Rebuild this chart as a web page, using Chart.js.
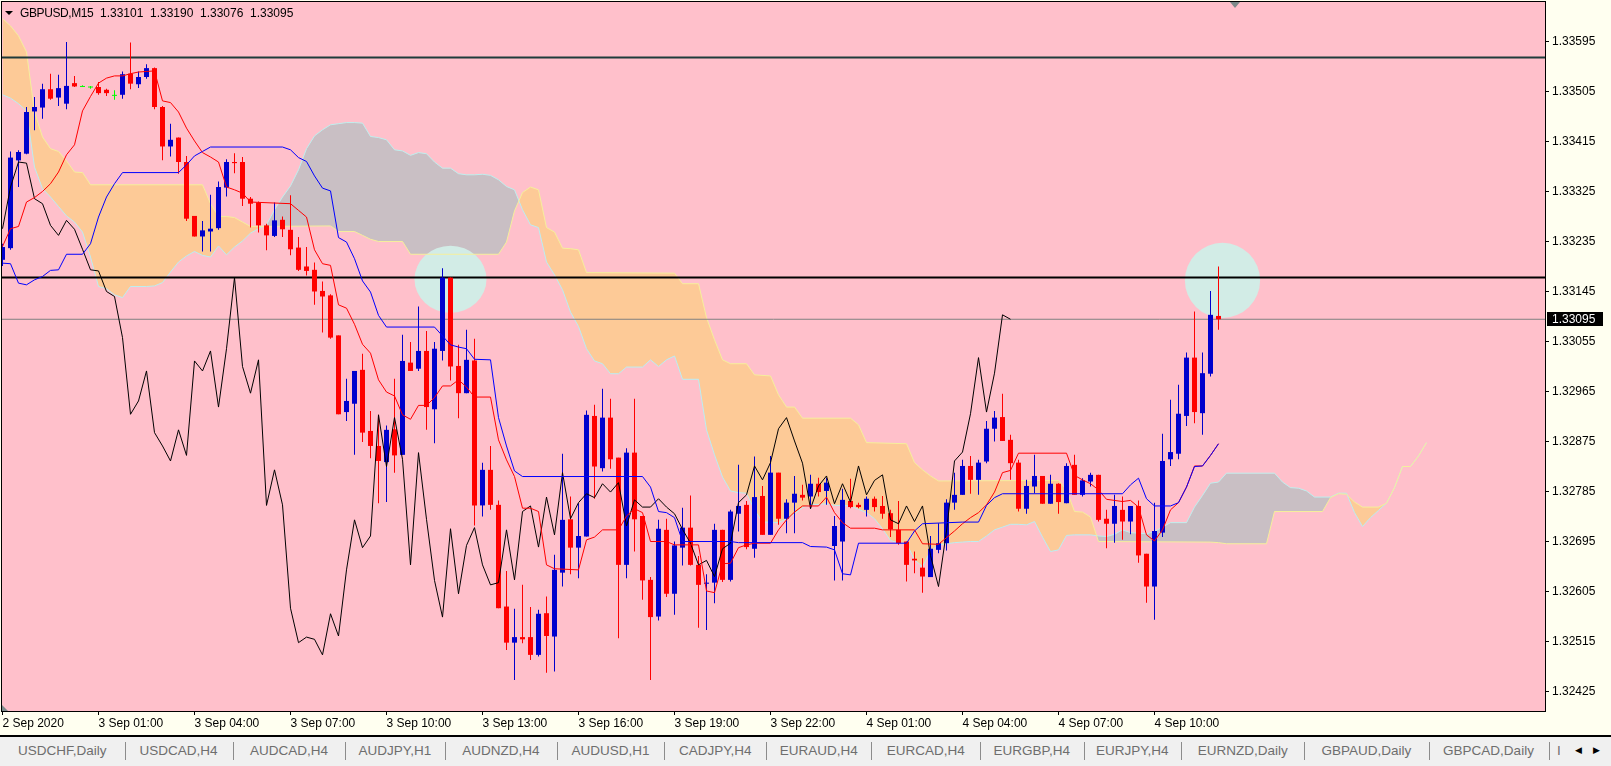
<!DOCTYPE html>
<html>
<head>
<meta charset="utf-8">
<title>GBPUSD,M15</title>
<script src="https://cdn.jsdelivr.net/npm/chart.js@4.4.1/dist/chart.umd.min.js"></script>
<style>
  body { margin: 0; background: #fffff0; }
  #wrap { position: relative; width: 1611px; height: 766px; overflow: hidden; background: #fffff0; font-family: 'Liberation Sans', Arial, sans-serif; }
  #chart { position: absolute; left: 0; top: 0; }
  #title { position: absolute; left: 0; top: 6px; height: 14px; width: 320px; font-size: 12px; line-height: 14px; color: #000; }
  #title span { position: absolute; top: 0; white-space: nowrap; }
  #title .tri { position: absolute; left: 5px; top: 5px; width: 0; height: 0; border-left: 4px solid transparent; border-right: 4px solid transparent; border-top: 4px solid #000; }
  #tabs { position: absolute; left: 0; top: 735px; width: 1611px; height: 29px; border-top: 2px solid #000; background: #f0f0f0; }
  .tab { position: absolute; top: 0; height: 27px; line-height: 27px; text-align: center; font-size: 13.5px; color: #6e6e6e; white-space: nowrap; overflow: hidden; }
  .sep { position: absolute; top: 5px; width: 1px; height: 18px; background: #8c8c8c; }
  .arrow { position: absolute; top: 0; height: 27px; line-height: 27px; font-size: 9px; color: #000; font-family: 'DejaVu Sans', sans-serif; }
</style>
</head>
<body>
<div id="wrap">
  <canvas id="chart" width="1611" height="737"></canvas>
  <div id="title">
    <div class="tri"></div>
    <span style="left:20px;letter-spacing:-0.4px">GBPUSD,M15</span>
    <span style="left:100px">1.33101</span>
    <span style="left:150px">1.33190</span>
    <span style="left:200px">1.33076</span>
    <span style="left:250px">1.33095</span>
  </div>
  <div id="tabs"></div>
</div>
<script>
// M15 bars, bar 0 = 2 Sep 22:00
const opens = [1.33202,1.33223,1.33381,1.33393,1.33469,1.33476,1.33509,1.33494,1.33483,1.33520,
  1.33514,1.33513,1.33513,1.33508,1.33498,1.33499,1.33537,1.33518,1.33531,1.33547,
  1.33477,1.33406,1.33422,1.33378,1.33281,1.33244,1.33253,1.33259,1.33332,1.33378,
  1.33378,1.33312,1.33305,1.33264,1.33245,1.33274,1.33256,1.33224,1.33190,1.33184,
  1.33146,1.33138,1.33066,1.32928,1.32943,1.33004,1.32894,1.32867,1.32838,1.32897,
  1.32851,1.33017,1.33006,1.33038,1.32933,1.33038,1.33170,1.33011,1.32962,1.33021,
  1.32760,1.32824,1.32761,1.32578,1.32513,1.32523,1.32523,1.32491,1.32566,1.32524,
  1.32639,1.32735,1.32684,1.32704,1.32921,1.32827,1.32918,1.32846,1.32653,1.32855,
  1.32741,1.32626,1.32560,1.32716,1.32601,1.32684,1.32720,1.32653,1.32619,1.32621,
  1.32716,1.32626,1.32745,1.32761,1.32682,1.32777,1.32707,1.32819,1.32736,1.32765,
  1.32779,1.32776,1.32799,1.32786,1.32687,1.32695,1.32768,1.32761,1.32752,1.32772,
  1.32759,1.32746,1.32716,1.32695,1.32664,1.32648,1.32631,1.32680,1.32692,1.32765,
  1.32779,1.32831,1.32806,1.32839,1.32898,1.32919,1.32878,1.32837,1.32754,1.32794,
  1.32813,1.32763,1.32799,1.32764,1.32833,1.32779,1.32803,1.32815,1.32736,1.32727,
  1.32752,1.32731,1.32759,1.32673,1.32614,1.32711,1.32843,1.32853,1.32921,1.33026,
  1.32926,1.32997,1.33101]
const highs = [1.33231,1.33397,1.33399,1.33477,1.33495,1.33519,1.33537,1.33535,1.33594,1.33533,
  1.33516,1.33515,1.33522,1.33510,1.33507,1.33541,1.33593,1.33541,1.33554,1.33548,
  1.33479,1.33447,1.33422,1.33389,1.33281,1.33272,1.33319,1.33343,1.33383,1.33394,
  1.33387,1.33315,1.33307,1.33267,1.33305,1.33280,1.33318,1.33243,1.33225,1.33197,
  1.33163,1.33140,1.33066,1.32988,1.33002,1.33033,1.32930,1.32923,1.32904,1.32988,
  1.33067,1.33054,1.33118,1.33074,1.33054,1.33187,1.33170,1.33049,1.33076,1.33060,
  1.32837,1.32867,1.32769,1.32642,1.32574,1.32617,1.32577,1.32572,1.32596,1.32671,
  1.32853,1.32776,1.32764,1.32931,1.32941,1.32970,1.32952,1.32846,1.32863,1.32952,
  1.32741,1.32631,1.32734,1.32736,1.32695,1.32756,1.32778,1.32669,1.32636,1.32727,
  1.32716,1.32752,1.32833,1.32768,1.32848,1.32795,1.32849,1.32819,1.32771,1.32813,
  1.32797,1.32815,1.32810,1.32810,1.32741,1.32790,1.32808,1.32765,1.32776,1.32776,
  1.32777,1.32752,1.32768,1.32695,1.32677,1.32665,1.32705,1.32728,1.32771,1.32819,
  1.32842,1.32849,1.32842,1.32912,1.32930,1.32961,1.32887,1.32842,1.32806,1.32851,
  1.32813,1.32815,1.32800,1.32836,1.32851,1.32809,1.32819,1.32815,1.32752,1.32779,
  1.32776,1.32759,1.32769,1.32673,1.32765,1.32889,1.32950,1.32977,1.33035,1.33109,
  1.33035,1.33146,1.33190]
const lows = [1.33191,1.33220,1.33333,1.33392,1.33435,1.33456,1.33490,1.33479,1.33473,1.33513,
  1.33513,1.33510,1.33499,1.33497,1.33490,1.33492,1.33509,1.33511,1.33528,1.33473,
  1.33381,1.33388,1.33357,1.33272,1.33244,1.33217,1.33217,1.33256,1.33316,1.33358,
  1.33299,1.33260,1.33251,1.33219,1.33243,1.33243,1.33210,1.33182,1.33174,1.33121,
  1.33071,1.33060,1.32924,1.32912,1.32851,1.32874,1.32845,1.32764,1.32766,1.32819,
  1.32851,1.33002,1.33002,1.32896,1.32872,1.33021,1.32985,1.32917,1.32962,1.32724,
  1.32740,1.32752,1.32575,1.32500,1.32446,1.32512,1.32482,1.32488,1.32459,1.32461,
  1.32614,1.32636,1.32629,1.32704,1.32772,1.32821,1.32826,1.32521,1.32629,1.32677,
  1.32590,1.32446,1.32553,1.32595,1.32563,1.32652,1.32652,1.32540,1.32536,1.32584,
  1.32622,1.32623,1.32713,1.32681,1.32666,1.32707,1.32707,1.32725,1.32710,1.32710,
  1.32769,1.32755,1.32776,1.32761,1.32625,1.32625,1.32755,1.32755,1.32740,1.32749,
  1.32736,1.32703,1.32689,1.32623,1.32638,1.32603,1.32631,1.32674,1.32679,1.32752,
  1.32779,1.32781,1.32779,1.32836,1.32875,1.32876,1.32806,1.32749,1.32745,1.32782,
  1.32763,1.32763,1.32745,1.32764,1.32779,1.32776,1.32794,1.32731,1.32683,1.32693,
  1.32698,1.32708,1.32657,1.32585,1.32554,1.32703,1.32831,1.32843,1.32903,1.32908,
  1.32887,1.32992,1.33076]
const closes = [1.33225,1.33386,1.33396,1.33468,1.33477,1.33509,1.33492,1.33511,1.33515,1.33514,
  1.33514,1.33513,1.33502,1.33502,1.33498,1.33536,1.33519,1.33531,1.33547,1.33477,
  1.33406,1.33418,1.33378,1.33276,1.33244,1.33255,1.33258,1.33333,1.33378,1.33376,
  1.33312,1.33303,1.33264,1.33246,1.33273,1.33257,1.33221,1.33184,1.33182,1.33145,
  1.33136,1.33062,1.32924,1.32948,1.33002,1.32891,1.32867,1.32840,1.32896,1.32850,
  1.33020,1.33002,1.33038,1.32937,1.33042,1.33170,1.33010,1.32962,1.33022,1.32760,
  1.32824,1.32761,1.32575,1.32513,1.32523,1.32519,1.32491,1.32565,1.32525,1.32644,
  1.32734,1.32684,1.32705,1.32923,1.32830,1.32918,1.32843,1.32653,1.32855,1.32735,
  1.32625,1.32559,1.32718,1.32601,1.32688,1.32720,1.32653,1.32617,1.32621,1.32716,
  1.32626,1.32749,1.32759,1.32685,1.32775,1.32707,1.32819,1.32736,1.32765,1.32781,
  1.32774,1.32799,1.32784,1.32801,1.32723,1.32770,1.32757,1.32757,1.32772,1.32757,
  1.32745,1.32717,1.32692,1.32653,1.32661,1.32632,1.32682,1.32692,1.32765,1.32779,
  1.32831,1.32806,1.32837,1.32898,1.32918,1.32876,1.32836,1.32754,1.32795,1.32813,
  1.32763,1.32799,1.32766,1.32831,1.32779,1.32805,1.32815,1.32734,1.32727,1.32759,
  1.32731,1.32759,1.32670,1.32614,1.32714,1.32840,1.32856,1.32925,1.33026,1.32928,
  1.32998,1.33103,1.33095]

// ichimoku lines as [bar, price]
const tenkanPts = [[0,1.33226],[1,1.33258],[2,1.33262],[3,1.33306],[4,1.33314],[5,1.33325],[6,1.33339],[7,1.33360],[8,1.33391],[9,1.33409],
  [10,1.33470],[11,1.33496],[12,1.33520],[13,1.33529],[14,1.33533],[15,1.33533],[16,1.33537],[17,1.33540],[18,1.33541],[19,1.33542],
  [20,1.33488],[21,1.33485],[22,1.33468],[23,1.33439],[24,1.33416],[25,1.33395],[26,1.33387],[27,1.33378],[28,1.33333],[29,1.33328],
  [30,1.33322],[31,1.33306],[36,1.33303],[37,1.33291],[38,1.33279],[39,1.33220],[40,1.33195],[41,1.33192],[42,1.33121],[43,1.33115],
  [44,1.33086],[45,1.33050],[46,1.33034],[47,1.32986],[48,1.32964],[49,1.32957],[50,1.32923],[51,1.32915],[52,1.32940],[53,1.32940],
  [54,1.32954],[55,1.32975],[56,1.32975],[57,1.32986],[58,1.32973],[59,1.32955],[61,1.32955],[62,1.32878],[63,1.32842],[64,1.32812],
  [65,1.32755],[66,1.32755],[67,1.32749],[68,1.32653],[69,1.32646],[72,1.32644],[73,1.32698],[74,1.32703],[75,1.32716],[77,1.32716],
  [78,1.32741],[79,1.32754],[80,1.32747],[81,1.32695],[83,1.32695],[84,1.32689],[87,1.32689],[88,1.32606],[89,1.32603],[90,1.32655],
  [91,1.32656],[92,1.32684],[93,1.32689],[94,1.32692],[96,1.32692],[97,1.32716],[98,1.32734],[99,1.32748],[100,1.32759],[102,1.32759],
  [103,1.32775],[104,1.32747],[105,1.32729],[106,1.32719],[109,1.32719],[110,1.32716],[114,1.32716],[115,1.32691],[117,1.32690],[118,1.32702],
  [119,1.32714],[120,1.32727],[121,1.32738],[122,1.32747],[123,1.32761],[124,1.32784],[125,1.32819],[126,1.32823],[127,1.32854],[133,1.32854],
  [134,1.32814],[135,1.32806],[136,1.32799],[137,1.32788],[138,1.32771],[139,1.32769],[140,1.32767],[141,1.32769],[142,1.32757],[143,1.32707],
  [144,1.32696],[145,1.32716],[146,1.32752],[147,1.32765],[148,1.32793],[149,1.32831],[150,1.32831],[151,1.32850],[152,1.32871]]
const kijunPts = [[0,1.33196],[1,1.33195],[2,1.33160],[3,1.33157],[4,1.33166],[5,1.33172],[6,1.33183],[7,1.33184],[8,1.33212],[10,1.33212],
  [11,1.33231],[12,1.33279],[13,1.33315],[14,1.33339],[15,1.33359],[22,1.33359],[23,1.33373],[24,1.33389],[25,1.33397],[26,1.33405],
  [35,1.33405],[36,1.33400],[37,1.33386],[38,1.33379],[39,1.33353],[40,1.33331],[41,1.33326],[42,1.33242],[43,1.33234],[44,1.33204],
  [45,1.33164],[46,1.33144],[47,1.33102],[48,1.33081],[54,1.33081],[55,1.33065],[56,1.33049],[57,1.33045],[58,1.33042],[59,1.33023],
  [61,1.33022],[62,1.32918],[63,1.32867],[64,1.32822],[65,1.32812],[80,1.32812],[81,1.32793],[82,1.32749],[83,1.32747],[84,1.32738],
  [85,1.32695],[91,1.32695],[92,1.32693],[100,1.32693],[101,1.32686],[103,1.32685],[104,1.32680],[105,1.32637],[106,1.32635],[107,1.32692],
  [113,1.32692],[114,1.32714],[115,1.32727],[120,1.32730],[122,1.32730],[123,1.32760],[124,1.32774],[125,1.32781],[140,1.32781],[141,1.32797],
  [142,1.32809],[143,1.32772],[144,1.32759],[146,1.32759],[147,1.32765],[148,1.32793],[149,1.32830],[150,1.32831],[151,1.32850],[152,1.32871]]
const spanAPts = [[0,1.33636],[1,1.33623],[2,1.33605],[3,1.33576],[4,1.33468],[5,1.33423],[6,1.33402],[7,1.33397],[8,1.33380],[9,1.33360],
  [10,1.33359],[11,1.33337],[25,1.33337],[26,1.33303],[27,1.33280],[28,1.33280],[29,1.33278],[30,1.33270],[31,1.33262],[41,1.33263],
  [42,1.33253],[44,1.33253],[45,1.33246],[46,1.33239],[47,1.33235],[50,1.33235],[51,1.33212],[62,1.33212],[63,1.33234],[64,1.33290],
  [65,1.33323],[66,1.33333],[67,1.33328],[68,1.33260],[69,1.33252],[70,1.33223],[71,1.33222],[72,1.33220],[73,1.33179],[84,1.33178],
  [85,1.33159],[87,1.33159],[88,1.33098],[89,1.33058],[90,1.33022],[91,1.33015],[93,1.33015],[94,1.32995],[96,1.32993],[97,1.32959],
  [98,1.32937],[99,1.32937],[100,1.32917],[106,1.32917],[107,1.32905],[108,1.32873],[113,1.32871],[114,1.32837],[115,1.32824],[116,1.32813],
  [117,1.32804],[132,1.32805],[133,1.32788],[134,1.32749],[135,1.32748],[136,1.32739],[137,1.32695],[151,1.32694],[152,1.32693],[153,1.32691],
  [158,1.32691],[159,1.32749],[165,1.32749],[166,1.32774],[167,1.32781],[168,1.32780],[169,1.32766],[170,1.32757],[172,1.32757],[173,1.32764],
  [174,1.32792],[175,1.32830],[176,1.32830],[177,1.32849],[178,1.32873]]
const spanBPts = [[0,1.33499],[1,1.33493],[2,1.33483],[3,1.33470],[4,1.33369],[5,1.33330],[6,1.33315],[7,1.33298],[8,1.33281],[9,1.33270],
  [10,1.33252],[11,1.33207],[12,1.33154],[13,1.33150],[14,1.33139],[15,1.33134],[16,1.33154],[18,1.33154],[19,1.33155],[20,1.33161],
  [21,1.33180],[22,1.33198],[23,1.33209],[24,1.33217],[25,1.33210],[26,1.33207],[27,1.33227],[28,1.33211],[29,1.33225],[30,1.33236],
  [31,1.33250],[32,1.33258],[33,1.33265],[34,1.33292],[35,1.33315],[36,1.33335],[37,1.33364],[38,1.33402],[39,1.33425],[40,1.33436],
  [41,1.33445],[42,1.33447],[43,1.33449],[44,1.33449],[45,1.33448],[46,1.33424],[47,1.33422],[48,1.33418],[49,1.33400],[50,1.33398],
  [51,1.33390],[52,1.33395],[53,1.33393],[54,1.33378],[55,1.33367],[56,1.33367],[57,1.33357],[58,1.33355],[59,1.33355],[60,1.33356],
  [61,1.33354],[62,1.33346],[63,1.33334],[64,1.33328],[65,1.33292],[66,1.33265],[67,1.33260],[68,1.33198],[69,1.33175],[70,1.33148],
  [71,1.33108],[72,1.33082],[73,1.33042],[74,1.33020],[75,1.33015],[76,1.32997],[77,1.32997],[78,1.33009],[80,1.33009],[81,1.33022],
  [82,1.33010],[83,1.33022],[84,1.33029],[85,1.32987],[87,1.32987],[88,1.32896],[89,1.32851],[90,1.32811],[91,1.32786],[92,1.32783],
  [93,1.32782],[94,1.32752],[95,1.32730],[96,1.32730],[97,1.32729],[98,1.32736],[99,1.32745],[100,1.32756],[101,1.32761],[102,1.32762],
  [103,1.32763],[104,1.32760],[105,1.32760],[106,1.32759],[107,1.32753],[108,1.32747],[109,1.32736],[110,1.32718],[111,1.32697],[112,1.32692],
  [113,1.32692],[114,1.32662],[115,1.32650],[116,1.32678],[117,1.32689],[118,1.32691],[119,1.32693],[120,1.32694],[121,1.32695],[122,1.32695],
  [123,1.32705],[124,1.32716],[125,1.32721],[126,1.32726],[127,1.32726],[128,1.32725],[129,1.32731],[130,1.32703],[131,1.32677],[132,1.32680],
  [133,1.32706],[134,1.32707],[136,1.32707],[137,1.32705],[138,1.32704],[139,1.32708],[140,1.32716],[141,1.32711],[143,1.32709],[144,1.32713],
  [145,1.32721],[146,1.32729],[148,1.32729],[149,1.32757],[150,1.32778],[151,1.32800],[152,1.32802],[153,1.32818],[159,1.32818],[160,1.32802],
  [161,1.32792],[162,1.32791],[163,1.32786],[164,1.32775],[166,1.32775],[167,1.32782],[168,1.32782],[169,1.32747],[170,1.32722],[171,1.32738],
  [172,1.32751],[173,1.32764],[174,1.32792],[175,1.32830],[176,1.32830],[177,1.32849],[178,1.32873]]

const levelPrices = [1.33566, 1.33170]
const markBars = [56, 152.5]
const markPrices = [1.33167, 1.33165]

const timeLabels = ['2 Sep 2020', '3 Sep 01:00', '3 Sep 04:00', '3 Sep 07:00', '3 Sep 10:00', '3 Sep 13:00', '3 Sep 16:00',
  '3 Sep 19:00', '3 Sep 22:00', '4 Sep 01:00', '4 Sep 04:00', '4 Sep 07:00', '4 Sep 10:00']
const labelBars = [0, 12, 24, 36, 48, 60, 72, 84, 96, 108, 120, 132, 144]
const yTicks = [1.32425, 1.32515, 1.32605, 1.32695, 1.32785, 1.32875, 1.32965, 1.33055, 1.33145, 1.33235, 1.33325, 1.33415, 1.33505, 1.33595]

const tabNames = ['USDCHF,Daily', 'USDCAD,H4', 'AUDCAD,H4', 'AUDJPY,H1', 'AUDNZD,H4', 'AUDUSD,H1', 'CADJPY,H4',
  'EURAUD,H4', 'EURCAD,H4', 'EURGBP,H4', 'EURJPY,H4', 'EURNZD,Daily', 'GBPAUD,Daily', 'GBPCAD,Daily']
const tabEdges = [0, 124.5, 232.7, 345.2, 444.6, 557, 664.2, 766.2, 871.4, 980, 1083.5, 1181, 1304.4, 1428.5, 1548.5]

// tab bar
var tabs = document.getElementById('tabs')
tabNames.forEach((name, i) => {
    var t = document.createElement('div')
    t.className = 'tab'
    t.style.left = tabEdges[i] + 'px'
    t.style.width = (tabEdges[i + 1] - tabEdges[i]) + 'px'
    t.textContent = name
    tabs.appendChild(t)
    var s = document.createElement('div')
    s.className = 'sep'
    s.style.left = Math.round(tabEdges[i + 1]) + 'px'
    tabs.appendChild(s)
})
var part = document.createElement('div')
part.className = 'tab'
part.style.left = '1557px'
part.style.width = '3px'
part.style.textAlign = 'left'
part.textContent = 'I'
tabs.appendChild(part)
var al = document.createElement('div')
al.className = 'arrow'
al.style.left = '1575px'
al.textContent = '\u25C0'
tabs.appendChild(al)
var ar = document.createElement('div')
ar.className = 'arrow'
ar.style.left = '1593px'
ar.textContent = '\u25B6'
tabs.appendChild(ar)

const FONT = "'Liberation Sans', Arial, sans-serif"
const X_MIN = -0.0625, X_MAX = 192.8125
const Y_MIN = 1.32390, Y_MAX = 1.33666

const bull = '#0000cd', bear = '#ff0000', doji = '#00ff00'
const candleColors = closes.map((c, i) => c > opens[i] ? bull : (c < opens[i] ? bear : doji))
const bodyData = opens.map((o, i) => {
    const c = closes[i]
    return { x: i, y: o === c ? [o - 0.000009, o + 0.000009] : [o, c] }
})
const wickData = highs.map((h, i) => ({ x: i, y: [lows[i], h] }))
const toXY = (pts) => pts.map(p => ({ x: p[0], y: p[1] }))
const chikouData = closes.slice(26).map((c, i) => ({ x: i, y: c }))
const bid = closes[closes.length - 1]
const flat = (p) => [{ x: X_MIN, y: p }, { x: X_MAX, y: p }]

const lineBase = { type: 'line', pointRadius: 0, borderWidth: 1, tension: 0, fill: false }

const decor = {
    id: 'decor',
    beforeDraw(chart) {
        const { ctx, chartArea: a, width, height } = chart
        ctx.save()
        ctx.fillStyle = '#fffff0'
        ctx.fillRect(0, 0, width, height)
        ctx.fillStyle = '#ffc0cb'
        ctx.fillRect(a.left, a.top, a.right - a.left, a.bottom - a.top)
        ctx.restore()
    },
    beforeDatasetsDraw(chart) {
        // drawn ellipse objects sit above the cloud, below lines and candles
        const { ctx, chartArea: a, scales: { x, y } } = chart
        const rxBars = [4.5, 4.7], ryPrice = [0.000603, 0.000675]
        ctx.save()
        ctx.beginPath()
        ctx.rect(a.left, a.top, a.right - a.left, a.bottom - a.top)
        ctx.clip()
        ctx.fillStyle = '#d2ece6'
        markBars.forEach((b, i) => {
            const cx = x.getPixelForValue(b)
            const cy = y.getPixelForValue(markPrices[i])
            const rx = Math.abs(x.getPixelForValue(b + rxBars[i]) - cx)
            const ry = Math.abs(y.getPixelForValue(markPrices[i] + ryPrice[i]) - cy)
            ctx.beginPath()
            ctx.ellipse(cx, cy, rx, ry, 0, 0, Math.PI * 2)
            ctx.fill()
        })
        ctx.restore()
    },
    afterDraw(chart) {
        const { ctx, chartArea: a, scales: { x, y } } = chart
        ctx.save()
        ctx.strokeStyle = '#000'
        ctx.lineWidth = 1
        ctx.strokeRect(a.left - 0.5, a.top - 0.5, a.right - a.left + 1, a.bottom - a.top + 1)
        // shift marker and autoscroll marker
        const sx = Math.round(x.getPixelForValue(154))
        ctx.fillStyle = '#7d8a8a'
        ctx.beginPath()
        ctx.moveTo(sx - 5, a.top)
        ctx.lineTo(sx + 5, a.top)
        ctx.lineTo(sx, a.top + 6)
        ctx.fill()
        ctx.beginPath()
        ctx.moveTo(a.left, a.bottom)
        ctx.lineTo(a.left, a.bottom - 6)
        ctx.lineTo(a.left + 6, a.bottom)
        ctx.fill()
        // current price box
        const yb = y.getPixelForValue(bid)
        ctx.fillStyle = '#000'
        ctx.fillRect(a.right + 2, Math.round(yb) - 7, 56, 14)
        ctx.fillStyle = '#fff'
        ctx.font = '12px ' + FONT
        ctx.textBaseline = 'middle'
        ctx.textAlign = 'left'
        ctx.fillText(bid.toFixed(5), a.right + 7, yb + 0.5)
        ctx.restore()
    }
}

var chart = new Chart(document.getElementById('chart'), {
    type: 'bar',
    data: {
        datasets: [
            Object.assign({}, lineBase, { label: 'Kijun', data: toXY(kijunPts), borderColor: '#0000ff', order: 1 }),
            Object.assign({}, lineBase, { label: 'Tenkan', data: toXY(tenkanPts), borderColor: '#ff0000', order: 2 }),
            Object.assign({}, lineBase, { label: 'Chikou', data: chikouData, borderColor: '#000000', order: 3 }),
            { type: 'bar', label: 'Body', data: bodyData, backgroundColor: candleColors, barThickness: 5, grouped: false,
              borderWidth: 0, inflateAmount: 0, order: 4 },
            { type: 'bar', label: 'Wick', data: wickData, backgroundColor: candleColors, barThickness: 1, grouped: false,
              borderWidth: 0, inflateAmount: 0, order: 5 },
            Object.assign({}, lineBase, { label: 'Level 1', data: flat(levelPrices[0]), borderColor: '#1f3b3b', borderWidth: 2, order: 6 }),
            Object.assign({}, lineBase, { label: 'Level 2', data: flat(levelPrices[1]), borderColor: '#000000', borderWidth: 2, order: 6 }),
            Object.assign({}, lineBase, { label: 'Bid', data: flat(bid), borderColor: '#808080', order: 6 }),
            Object.assign({}, lineBase, { label: 'Senkou A', data: toXY(spanAPts), borderColor: '#f6ef9c', order: 7,
              fill: { target: '+1', above: '#fdca97', below: '#c9bfc4' } }),
            Object.assign({}, lineBase, { label: 'Senkou B', data: toXY(spanBPts), borderColor: '#bdeff0', order: 8 })
        ]
    },
    options: {
        responsive: false,
        animation: false,
        events: [],
        layout: { padding: { left: 2, top: 2, right: 0, bottom: 0 } },
        plugins: {
            legend: { display: false },
            tooltip: { enabled: false },
            filler: { drawTime: 'beforeDatasetsDraw' }
        },
        scales: {
            x: {
                type: 'linear', min: X_MIN, max: X_MAX, offset: false,
                grid: { drawOnChartArea: false, drawTicks: true, tickLength: 4, color: '#000', offset: false },
                border: { display: false },
                ticks: {
                    autoSkip: false, maxRotation: 0, align: 'start', padding: 1, color: '#000',
                    font: { family: FONT, size: 12 },
                    callback: (v, i) => timeLabels[i]
                },
                afterBuildTicks: (s) => { s.ticks = labelBars.map(v => ({ value: v })) },
                afterFit: (s) => { s.height = 26; s.paddingLeft = 0; s.paddingRight = 0 }
            },
            y: {
                type: 'linear', position: 'right', min: Y_MIN, max: Y_MAX,
                grid: { drawOnChartArea: false, drawTicks: true, tickLength: 4, color: '#000' },
                border: { display: false },
                ticks: {
                    autoSkip: false, padding: 3, color: '#000',
                    font: { family: FONT, size: 12 },
                    callback: (v) => Number(v).toFixed(5)
                },
                afterBuildTicks: (s) => { s.ticks = yTicks.map(v => ({ value: v })) },
                afterFit: (s) => { s.width = 66; s.paddingTop = 0; s.paddingBottom = 0 }
            }
        }
    },
    plugins: [decor]
})
</script>
</body>
</html>
